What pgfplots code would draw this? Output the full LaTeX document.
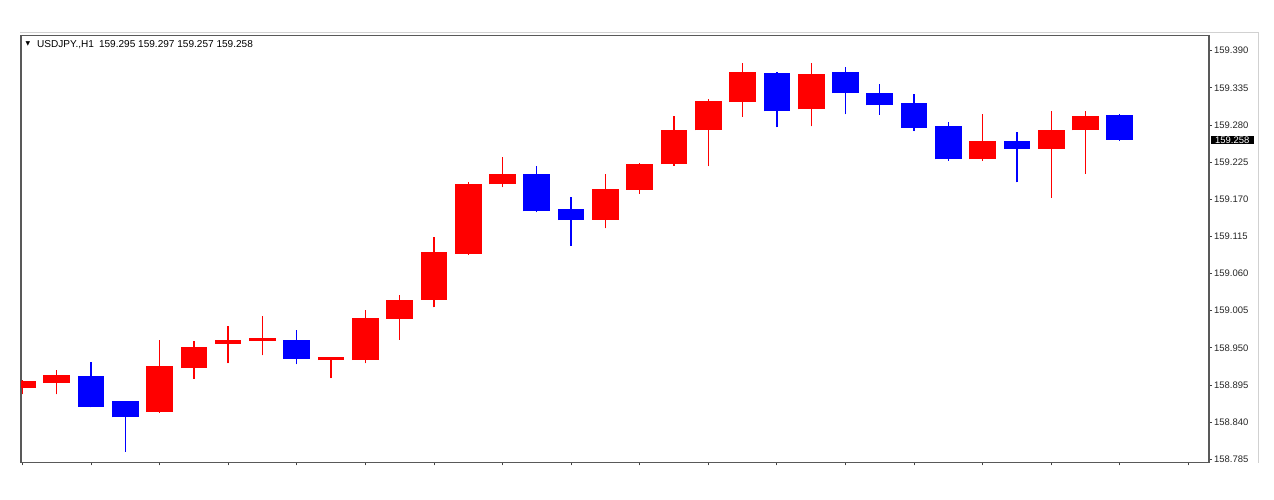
\documentclass[border=0pt]{standalone}
\usepackage{fontspec}
\setmainfont{Liberation Sans}
\newfontfamily\symfont{DejaVu Sans}
\usepackage{pgfplots}
\usepackage{pgfplotstable}
\pgfplotsset{compat=1.18}

% rising candles (red): index, open, high, low, close
\pgfplotstableread{
i O H L C
0 158.890 158.902 158.881 158.901
1 158.898 158.917 158.881 158.910
4 158.855 158.962 158.854 158.923
5 158.920 158.960 158.904 158.951
6 158.956 158.983 158.927 158.962
7 158.960 158.997 158.939 158.964
9 158.932 158.937 158.905 158.936
10 158.932 159.006 158.927 158.994
11 158.993 159.029 158.962 159.021
12 159.021 159.114 159.010 159.092
13 159.089 159.196 159.088 159.192
14 159.192 159.232 159.188 159.207
17 159.140 159.208 159.127 159.185
18 159.184 159.223 159.178 159.222
19 159.222 159.293 159.220 159.273
20 159.272 159.319 159.219 159.315
21 159.314 159.372 159.292 159.358
23 159.303 159.372 159.278 159.356
28 159.229 159.297 159.227 159.256
30 159.245 159.300 159.172 159.273
31 159.272 159.300 159.208 159.293
}\bulls

% falling candles (blue)
\pgfplotstableread{
i O H L C
2 158.908 158.929 158.862 158.863
3 158.871 158.871 158.796 158.847
8 158.962 158.976 158.926 158.934
15 159.207 159.219 159.151 159.152
16 159.156 159.173 159.101 159.139
22 159.357 159.358 159.277 159.300
24 159.358 159.366 159.296 159.327
25 159.328 159.341 159.295 159.309
26 159.313 159.326 159.271 159.276
27 159.278 159.284 159.227 159.229
29 159.257 159.270 159.195 159.245
32 159.295 159.297 159.257 159.258
}\bears

\begin{document}
\begin{tikzpicture}
\useasboundingbox (0,0) rectangle (1274bp,500bp);
\fill[white] (0,0) rectangle (1274bp,500bp);
\draw[black!18, line width=1bp] (20bp,467.7bp) -- (1258bp,467.7bp) -- (1258bp,37bp);

\begin{axis}[
  at={(21bp,37.7bp)}, anchor=south west,
  scale only axis, width=1188bp, height=427bp,
  xmin=-0.04, xmax=34.6,
  ymin=158.7806, ymax=159.4128,
  axis line style={draw=black!65, line width=1.1bp},
  xtick={0,2,...,34}, xticklabels={},
  xtick pos=left, ytick pos=right,
  yticklabel pos=right,
  tick align=outside, major tick length=3bp,
  tick style={black!75, line width=0.8bp},
  ytick={158.785,158.840,158.895,158.950,159.005,159.060,159.115,159.170,159.225,159.280,159.335,159.390},
  yticklabels={158.785,158.840,158.895,158.950,159.005,159.060,159.115,159.170,159.225,159.280,159.335,159.390},
  yticklabel style={font=\fontsize{9.5}{10}\selectfont, text=black!85, inner xsep=2bp},
  wick/.style={only marks, mark size=0pt, mark options={draw=none, fill=none},
    error bars/.cd, y dir=plus, y explicit, error mark=none,
    error bar style={line width=1.3bp, draw=#1}},
  body/.style={only marks, mark size=0pt, mark options={draw=none, fill=none},
    error bars/.cd, y dir=plus, y explicit, error mark=none,
    error bar style={line width=26.7bp, line cap=butt, draw=#1}},
]
% wicks
\addplot[wick=red] table[x=i, y=L, y error expr=\thisrow{H}-\thisrow{L}] {\bulls};
\addplot[wick=blue] table[x=i, y=L, y error expr=\thisrow{H}-\thisrow{L}] {\bears};
% bodies
\addplot[body=red] table[x=i, y=O, y error expr=\thisrow{C}-\thisrow{O}] {\bulls};
\addplot[body=blue] table[x=i, y=C, y error expr=\thisrow{O}-\thisrow{C}] {\bears};

\coordinate (lp) at (axis cs:34.6,159.258);
\end{axis}

% last price marker
\node[anchor=west, fill=black, text=white, inner xsep=4.5bp, inner ysep=1bp,
  font=\fontsize{9.5}{10}\selectfont, xshift=1.5bp] at (lp) {159.258};

\node[anchor=center, inner sep=0pt, font=\symfont\fontsize{6}{6}\selectfont] at (28bp,456bp) {▼};
\node[anchor=base west, inner sep=0pt, font=\fontsize{10.1}{11}\selectfont] at (37bp,452.7bp)
  {USDJPY.,H1\hspace{5bp}159.295 159.297 159.257 159.258};
\end{tikzpicture}
\end{document}
